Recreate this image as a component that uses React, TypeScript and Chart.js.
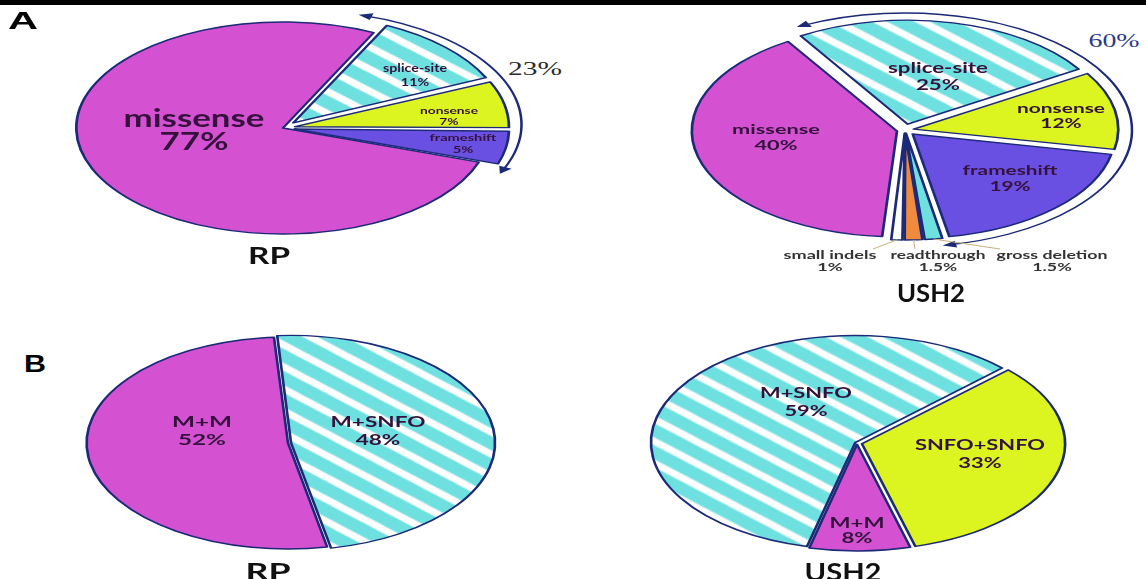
import React, { useEffect, useRef } from "react";
import { Chart, registerables } from "chart.js";

Chart.register(...registerables);

// ---------------- data ----------------
const rpACategories = ["splice-site", "nonsense", "frameshift", "missense"];
const rpAValues = [11, 7, 5, 77];

const ush2ACategories = [
  "splice-site",
  "nonsense",
  "frameshift",
  "gross deletion",
  "readthrough",
  "small indels",
  "missense",
];
const ush2AValues = [25, 12, 19, 1.5, 1.5, 1, 40];

const rpBCategories = ["M+SNFO", "M+M"];
const rpBValues = [48, 52];

const ush2BCategories = ["SNFO+SNFO", "M+M", "M+SNFO"];
const ush2BValues = [33, 8, 59];

const panelTitles = ["RP", "USH2", "RP", "USH2"];
const panelLetters = ["A", "B"];

// ---------------- styles ----------------
const NAVY = "#1c2a78";
const MAGENTA = "#d452d2";
const YELLOW = "#dcf41f";
const VIOLET = "#6a50e2";
const CYAN = "#6fe0e0";
const ORANGE = "#f08a3c";
const HATCH = "hatch";

const colorOf: Record<string, string> = {
  missense: MAGENTA,
  "splice-site": HATCH,
  nonsense: YELLOW,
  frameshift: VIOLET,
  "gross deletion": CYAN,
  readthrough: ORANGE,
  "small indels": "#ffffff",
  "M+M": MAGENTA,
  "M+SNFO": HATCH,
  "SNFO+SNFO": YELLOW,
};

type Box = { x: number; y: number; size: number; w: number; lh: number; color?: string };

type PieSpec = {
  categories: string[];
  values: number[];
  cx: number;
  cy: number;
  r: number;
  s: number;
  rotation: number;
  shifts: number[];
  halfW: number;
  halfH: number;
  arrow?: { from: number; to: number; radius: number; shiftAngle: number; shift: number };
  leaders?: { index: number; x: number; y: number }[];
  labels: Box[];
};

const pies: PieSpec[] = [
  {
    categories: rpACategories,
    values: rpAValues,
    cx: 283,
    cy: 128,
    r: 106,
    s: 1.95,
    rotation: 26,
    shifts: [10, 10, 10, 0],
    halfW: 255,
    halfH: 128,
    arrow: { from: -73, to: 24, radius: 114, shiftAngle: -22.6, shift: 9 },
    labels: [
      { x: 415, y: 75, size: 11, w: 64, lh: 14 },
      { x: 449, y: 116, size: 10, w: 58, lh: 11 },
      { x: 463, y: 143, size: 10, w: 67, lh: 12 },
      { x: 194, y: 129, size: 24, w: 141, lh: 23 },
    ],
  },
  {
    categories: ush2ACategories,
    values: ush2AValues,
    cx: 905,
    cy: 130,
    r: 104,
    s: 1.94,
    rotation: -32,
    shifts: [6, 6, 6, 6, 6, 6, 6],
    halfW: 240,
    halfH: 130,
    arrow: { from: -117, to: 79, radius: 117, shiftAngle: 0, shift: 0 },
    leaders: [
      { index: 5, x: 873, y: 249 },
      { index: 4, x: 915, y: 249 },
      { index: 3, x: 1000, y: 249 },
    ],
    labels: [
      { x: 938, y: 76, size: 15, w: 100, lh: 17 },
      { x: 1061, y: 115, size: 14, w: 88, lh: 15 },
      { x: 1010, y: 178, size: 14, w: 95, lh: 16 },
      { x: 1052, y: 261, size: 10.5, w: 111, lh: 12, color: "#333" },
      { x: 938, y: 261, size: 10.5, w: 95, lh: 12, color: "#333" },
      { x: 830, y: 261, size: 10.5, w: 93, lh: 12, color: "#333" },
      { x: 776, y: 137, size: 14, w: 88, lh: 16 },
    ],
  },
  {
    categories: rpBCategories,
    values: rpBValues,
    cx: 288,
    cy: 443,
    r: 106,
    s: 1.9,
    rotation: -4,
    shifts: [3, 0],
    halfW: 240,
    halfH: 136,
    labels: [
      { x: 378, y: 430, size: 16, w: 95, lh: 18 },
      { x: 202, y: 430, size: 16, w: 60, lh: 18 },
    ],
  },
  {
    categories: ush2BCategories,
    values: ush2BValues,
    cx: 857,
    cy: 443,
    r: 106,
    s: 1.91,
    rotation: 46,
    shifts: [3, 2, 2],
    halfW: 240,
    halfH: 136,
    labels: [
      { x: 980, y: 453, size: 16, w: 130, lh: 18 },
      { x: 857, y: 530, size: 15, w: 55, lh: 15 },
      { x: 806, y: 401, size: 16, w: 92, lh: 18 },
    ],
  },
];

const titleBoxes: Box[] = [
  { x: 269, y: 256, size: 22, w: 42, lh: 24 },
  { x: 931, y: 293, size: 24, w: 68, lh: 26 },
  { x: 268, y: 572, size: 22, w: 45, lh: 24 },
  { x: 843, y: 572, size: 24, w: 77, lh: 26 },
];
const letterBoxes: Box[] = [
  { x: 23, y: 21, size: 24, w: 30, lh: 26 },
  { x: 35, y: 364, size: 24, w: 22, lh: 26 },
];

// ---------------- helpers ----------------
let measureCtx: CanvasRenderingContext2D | null = null;
function measure(text: string, font: string): number {
  if (!measureCtx) measureCtx = document.createElement("canvas").getContext("2d");
  if (!measureCtx) return text.length * 8;
  measureCtx.font = font;
  return measureCtx.measureText(text).width;
}

function makeHatch(ctx: CanvasRenderingContext2D): CanvasPattern | string {
  const P = 22;
  const tile = document.createElement("canvas");
  tile.width = P;
  tile.height = P;
  const t = tile.getContext("2d");
  if (!t) return CYAN;
  t.fillStyle = CYAN;
  t.fillRect(0, 0, P, P);
  t.strokeStyle = "#ffffff";
  t.lineWidth = 5.5;
  for (const c of [-P, 0, P]) {
    t.beginPath();
    t.moveTo(-2, c - 2);
    t.lineTo(P + 2, P + c + 2);
    t.stroke();
  }
  return ctx.createPattern(tile, "repeat") || CYAN;
}

function Label({
  lines,
  box,
  family,
  color,
}: {
  lines: string[];
  box: Box;
  family: string;
  color: string;
}) {
  const font = `bold ${box.size}px ${family}`;
  const maxW = Math.max(...lines.map((l) => measure(l, font)));
  const sx = maxW > 0 ? box.w / maxW : 1;
  return (
    <div
      style={{
        position: "absolute",
        left: box.x,
        top: box.y,
        transform: `translate(-50%, -50%) scaleX(${sx.toFixed(3)})`,
        fontFamily: family,
        fontWeight: 700,
        fontSize: box.size,
        lineHeight: `${box.lh}px`,
        color: box.color || color,
        whiteSpace: "pre",
        textAlign: "center",
        zIndex: 5,
      }}
    >
      {lines.join("\n")}
    </div>
  );
}

function Pie({ spec }: { spec: PieSpec }) {
  const ref = useRef<HTMLCanvasElement | null>(null);
  const W = spec.halfW * 2;
  const H = spec.halfH * 2;
  const left = spec.cx - spec.halfW;
  const top = spec.cy - spec.halfH;

  useEffect(() => {
    const canvas = ref.current;
    if (!canvas) return;
    const ctx = canvas.getContext("2d");
    if (!ctx) return;
    const hatch = makeHatch(ctx);
    const total = spec.values.reduce((a, b) => a + b, 0);
    const offsets = spec.values.map((v, i) => {
      const circ = (v / total) * 2 * Math.PI;
      const fix = 1 - Math.sin(Math.min(Math.PI, circ));
      return (4 * spec.shifts[i]) / (1 + fix);
    });
    const colors = spec.categories.map((c) => (colorOf[c] === HATCH ? hatch : colorOf[c]));
    const s = spec.s;
    const rad = Math.PI / 180;

    const plugin = {
      id: "stretchPie",
      beforeDatasetsDraw(chart: any) {
        const c = chart.ctx as CanvasRenderingContext2D;
        const ca = chart.chartArea;
        const cx = (ca.left + ca.right) / 2;
        c.save();
        c.translate(cx, 0);
        c.scale(s, 1);
        c.translate(-cx, 0);
      },
      afterDatasetsDraw(chart: any) {
        const c = chart.ctx as CanvasRenderingContext2D;
        const ca = chart.chartArea;
        const cx = (ca.left + ca.right) / 2;
        const cy = (ca.top + ca.bottom) / 2;
        const a = spec.arrow;
        if (a) {
          const ox = cx + a.shift * Math.cos(a.shiftAngle * rad);
          const oy = cy + a.shift * Math.sin(a.shiftAngle * rad);
          c.strokeStyle = NAVY;
          c.fillStyle = NAVY;
          c.lineWidth = 1.3;
          c.beginPath();
          c.arc(ox, oy, a.radius, a.from * rad, a.to * rad);
          c.stroke();
          const head = (ang: number, dir: number) => {
            const px = ox + a.radius * Math.cos(ang);
            const py = oy + a.radius * Math.sin(ang);
            const tx = -Math.sin(ang) * dir;
            const ty = Math.cos(ang) * dir;
            const nx = Math.cos(ang);
            const ny = Math.sin(ang);
            c.beginPath();
            c.moveTo(px + tx * 3, py + ty * 3);
            c.lineTo(px - tx * 4 + nx * 3.5, py - ty * 4 + ny * 3.5);
            c.lineTo(px - tx * 4 - nx * 3.5, py - ty * 4 - ny * 3.5);
            c.closePath();
            c.fill();
          };
          head(a.from * rad, -1);
          head(a.to * rad, 1);
        }
        c.restore();
        if (spec.leaders) {
          const meta = chart.getDatasetMeta(0);
          c.save();
          c.strokeStyle = "#c9b07c";
          c.lineWidth = 1;
          for (const l of spec.leaders) {
            const el = meta.data[l.index];
            if (!el) continue;
            const m = (el.startAngle + el.endAngle) / 2;
            const R = spec.r + spec.shifts[l.index];
            const px = cx + s * R * Math.cos(m);
            const py = cy + R * Math.sin(m);
            c.beginPath();
            c.moveTo(px, py);
            c.lineTo(l.x - left, l.y - top);
            c.stroke();
          }
          c.restore();
        }
      },
    };

    const chart = new Chart(canvas, {
      type: "pie",
      data: {
        labels: spec.categories,
        datasets: [
          {
            data: spec.values,
            backgroundColor: colors as any,
            borderColor: NAVY,
            borderWidth: 1.4,
            borderJoinStyle: "round",
            offset: offsets,
            radius: spec.r,
            clip: false,
          } as any,
        ],
      },
      options: {
        responsive: false,
        animation: false,
        events: [],
        rotation: spec.rotation,
        layout: { padding: 0 },
        plugins: {
          legend: { display: false },
          tooltip: { enabled: false },
          title: { display: false },
        },
      } as any,
      plugins: [plugin as any],
    });
    return () => chart.destroy();
  }, []);

  return (
    <canvas
      ref={ref}
      width={W}
      height={H}
      style={{ position: "absolute", left, top, width: W, height: H, zIndex: 1 }}
    />
  );
}

export default function App() {
  const pct = (v: number) => `${v}%`;
  const outsideShare = (cats: string[], vals: number[]) =>
    vals.reduce((acc, v, i) => (cats[i] === "missense" ? acc : acc + v), 0);
  return (
    <div
      style={{
        position: "fixed",
        left: 0,
        top: 0,
        width: 1146,
        height: 579,
        overflow: "hidden",
        background: "#ffffff",
      }}
    >
      <div style={{ position: "absolute", left: 0, top: 0, width: 1146, height: 5, background: "#000" }} />
      {pies.map((p, i) => (
        <Pie key={i} spec={p} />
      ))}
      {pies.map((p, i) =>
        p.categories.map((c, j) => (
          <Label
            key={`${i}-${j}`}
            lines={[c, pct(p.values[j])]}
            box={p.labels[j]}
            family="Lato, 'Open Sans', sans-serif"
            color="#35123d"
          />
        ))
      )}
      {panelTitles.map((t, i) => (
        <Label key={`t${i}`} lines={[t]} box={titleBoxes[i]} family="Lato, sans-serif" color="#111" />
      ))}
      {panelLetters.map((t, i) => (
        <Label key={`l${i}`} lines={[t]} box={letterBoxes[i]} family="'Liberation Sans', Arial, sans-serif" color="#000" />
      ))}
      <div
        style={{
          position: "absolute",
          left: 535,
          top: 69,
          transform: "translate(-50%, -50%) scaleX(1.55)",
          fontFamily: "'Liberation Serif', 'DejaVu Serif', serif",
          fontSize: 19,
          color: "#2a2a2a",
          whiteSpace: "pre",
        }}
      >
        {pct(outsideShare(rpACategories, rpAValues))}
      </div>
      <div
        style={{
          position: "absolute",
          left: 1114,
          top: 41,
          transform: "translate(-50%, -50%) scaleX(1.55)",
          fontFamily: "'Liberation Serif', 'DejaVu Serif', serif",
          fontSize: 18,
          color: "#2b3a8c",
          whiteSpace: "pre",
        }}
      >
        {pct(outsideShare(ush2ACategories, ush2AValues))}
      </div>
    </div>
  );
}
